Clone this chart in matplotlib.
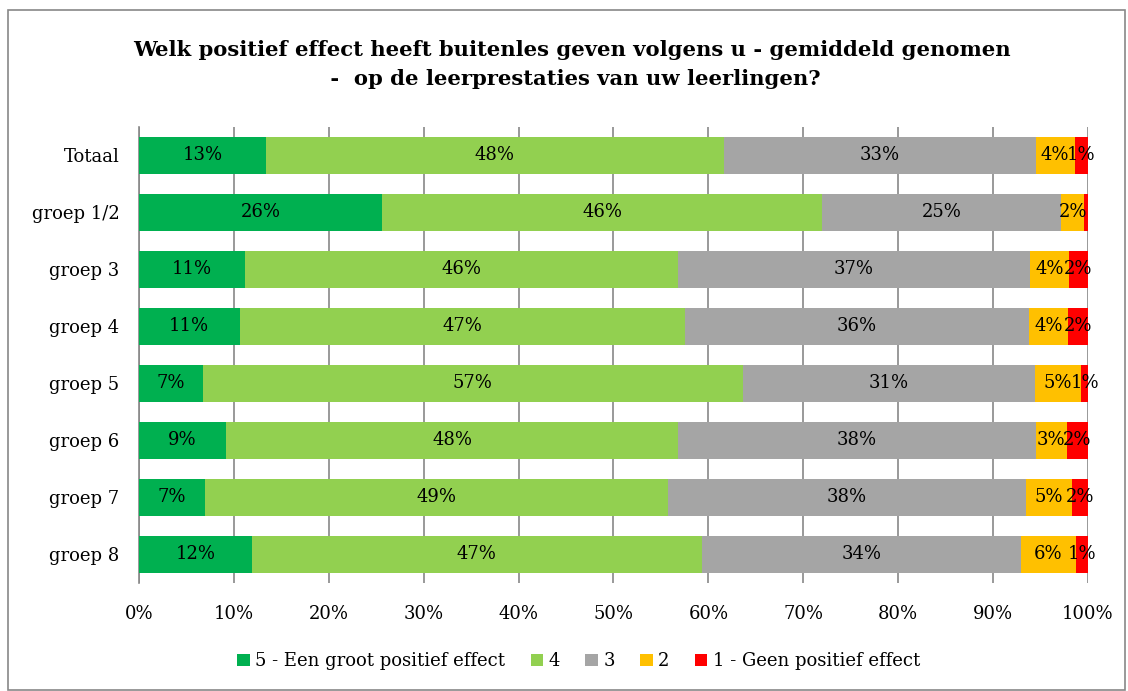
import numpy as np
import matplotlib.pyplot as plt
from matplotlib.patches import Rectangle

plt.rcParams['font.family'] = ['DejaVu Serif']

groups = ['Totaal', 'groep 1/2', 'groep 3', 'groep 4', 'groep 5',
          'groep 6', 'groep 7', 'groep 8']
# percentages per answer category
score5 = [13.4, 25.6, 11.2, 10.6, 6.7, 9.2, 7.0, 11.9]
score4 = [48.2, 46.4, 45.6, 46.9, 56.9, 47.6, 48.7, 47.4]
score3 = [32.9, 25.2, 37.1, 36.3, 30.8, 37.7, 37.8, 33.6]
score2 = [4.1, 2.4, 4.1, 4.1, 4.9, 3.3, 4.8, 5.8]
score1 = [1.4, 0.4, 2.0, 2.1, 0.7, 2.2, 1.7, 1.3]

series_names = ['5 - Een groot positief effect', '4', '3', '2',
                '1 - Geen positief effect']
colors = ['#00B050', '#92D050', '#A5A5A5', '#FFC000', '#FF0000']

fig = plt.figure(figsize=(11.28, 6.91), dpi=100)
fig.patches.append(Rectangle((0.007, 0.002), 0.99, 0.984, transform=fig.transFigure,
                             fill=False, edgecolor='#888888', linewidth=1.2))
ax = fig.add_axes([0.1232, 0.1563, 0.8413, 0.66])

y = np.arange(len(groups))
left = np.zeros(len(groups))
for vals, name, col in zip([score5, score4, score3, score2, score1], series_names, colors):
    vals = np.array(vals)
    ax.barh(y, vals, left=left, height=0.65, color=col, label=name, zorder=3)
    for yi, l, v in zip(y, left, vals):
        if v >= 0.5:
            ax.text(l + v / 2, yi, f'{v:.0f}%', ha='center', va='center',
                    fontsize=13, color='black', zorder=4)
    left += vals

ax.set_xlim(0, 100)
ax.set_ylim(len(groups) - 0.5, -0.5)
ax.set_yticks(y)
ax.set_yticklabels(groups, fontsize=13)
ax.set_xticks(np.arange(0, 101, 10))
ax.set_xticklabels([f'{t}%' for t in range(0, 101, 10)], fontsize=13)
ax.tick_params(axis='y', length=0, pad=14)
ax.tick_params(axis='x', length=0, pad=16)
ax.grid(axis='x', color='#888888', linewidth=1.2, zorder=0)
for s in ['top', 'right', 'bottom']:
    ax.spines[s].set_visible(False)
ax.spines['left'].set_color('#888888')
ax.spines['left'].set_linewidth(1.2)

fig.text(0.507, 0.907, 'Welk positief effect heeft buitenles geven volgens u - gemiddeld genomen\n -  op de leerprestaties van uw leerlingen?',
         ha='center', va='center', fontsize=15.2, fontweight='bold', linespacing=1.55)

fig.legend(*ax.get_legend_handles_labels(), loc='center', bbox_to_anchor=(0.513, 0.043),
           ncol=5, frameon=False, fontsize=13, handlelength=0.7, handleheight=0.7,
           handletextpad=0.3, columnspacing=1.4)

fig.savefig('out.png', dpi=100)
